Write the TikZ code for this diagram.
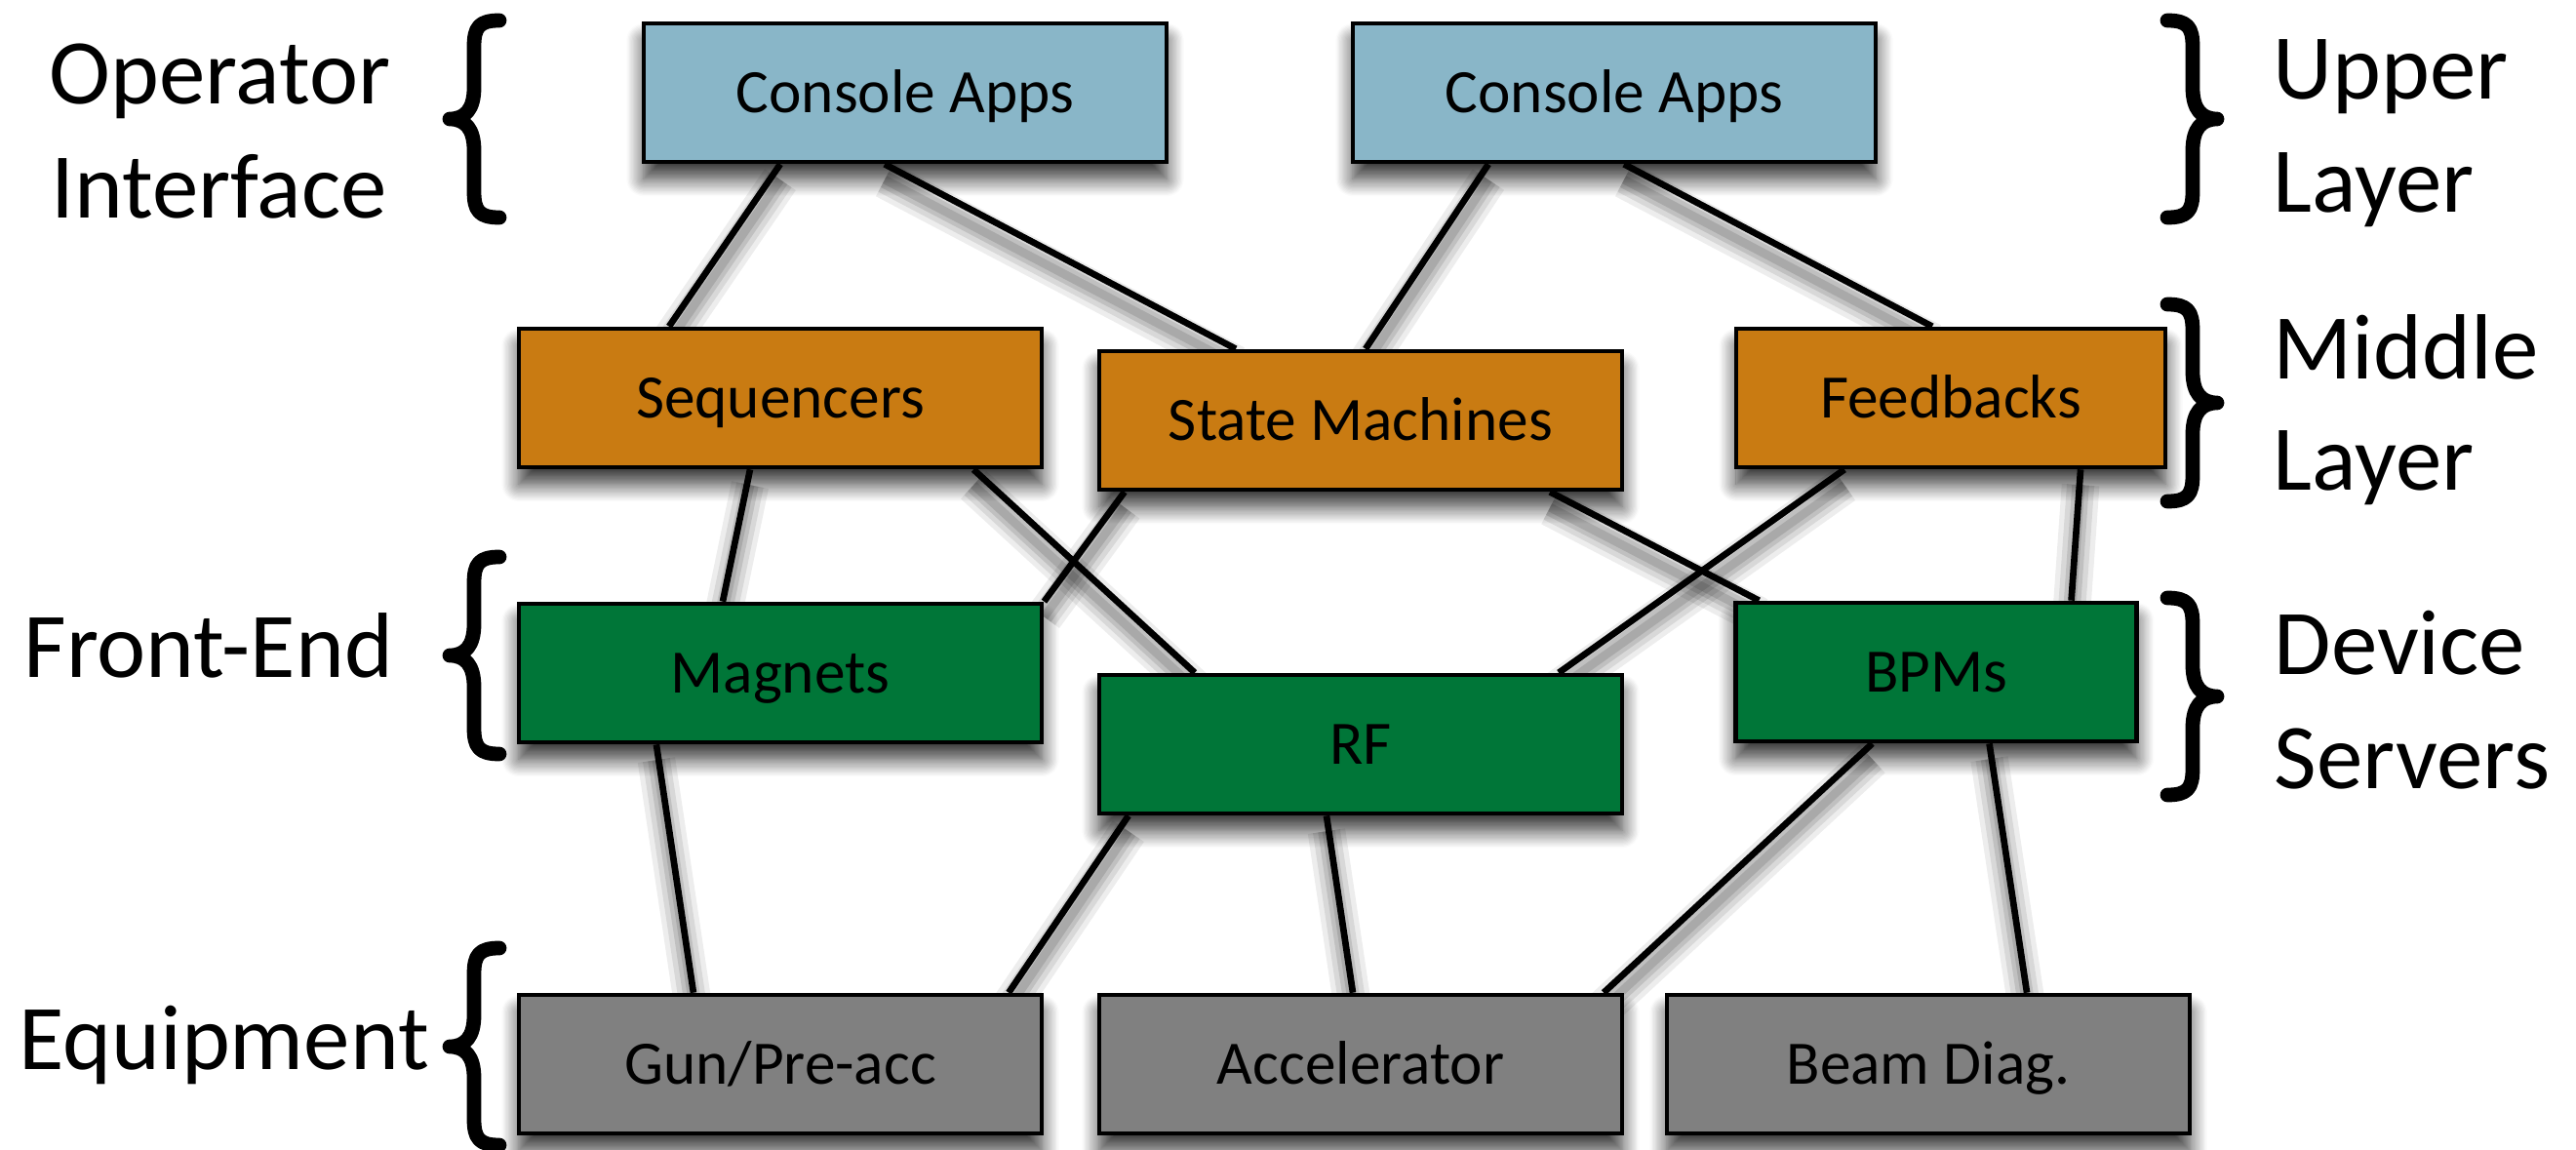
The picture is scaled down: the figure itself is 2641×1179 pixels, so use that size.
\documentclass[tikz,border=0pt]{standalone}
\usepackage{fontspec}
\setmainfont{Carlito}
\usetikzlibrary{shadows.blur}
\definecolor{consoleblue}{RGB}{137,182,200}
\definecolor{midorange}{RGB}{201,123,18}
\definecolor{devgreen}{RGB}{0,118,56}
\definecolor{equipgrey}{RGB}{128,128,128}
\pgfdeclarelayer{background}
\pgfsetlayers{background,main}
% a connector: soft shadow underneath, black line on top
\newcommand\wirelink[2]{%
  \begin{pgfonlayer}{background}%
    \begin{scope}[transform canvas={yshift=-4.5pt}]
      \draw[wireshade] (#1) -- (#2);
    \end{scope}%
  \end{pgfonlayer}%
  \draw[wire] (#1) -- (#2);}
\tikzset{
  pics/curly/.style={code={
    \draw[bracepen] (51,-101) .. controls (30,-101) and (25,-94) .. (25,-74)
      -- (25,-32) .. controls (25,-10) and (16,0) .. (0,0)
      .. controls (16,0) and (25,10) .. (25,32)
      -- (25,74) .. controls (25,94) and (30,101) .. (51,101);
  }},
}
\begin{document}
\begin{tikzpicture}[x=0.01cm,y=-0.01cm,
  layerbox/.style={draw=black, line width=1.3pt, minimum width=5.36cm,
    minimum height=1.42cm, inner sep=0pt,
    font=\fontsize{18}{21.6}\selectfont, text height=11.6pt, text depth=0pt,
    blur shadow={shadow xshift=0pt, shadow yshift=-5pt,
      shadow blur radius=5pt, shadow opacity=80, shadow blur steps=14}},
  uibox/.style={layerbox, fill=consoleblue},
  midbox/.style={layerbox, fill=midorange},
  devbox/.style={layerbox, fill=devgreen},
  eqbox/.style={layerbox, fill=equipgrey},
  sidelabel/.style={anchor=base west, inner sep=0pt,
    font=\fontsize{27}{32}\selectfont},
  wire/.style={draw=black, line width=1.9pt},
  wireshade/.style={draw=black, draw opacity=0.12, line width=2.5pt,
    preaction={draw=black, draw opacity=0.07, line width=11pt},
    preaction={draw=black, draw opacity=0.09, line width=8pt},
    preaction={draw=black, draw opacity=0.11, line width=5pt}},
  bracepen/.style={draw=black, line width=4.2pt, line cap=round, line join=round},
]
\useasboundingbox (0,0) rectangle (2641,1179);

% upper layer
\node[uibox] (ca1) at (928,95) {Console Apps};
\node[uibox] (ca2) at (1655,95) {Console Apps};
% middle layer
\node[midbox] (seq) at (800,408) {Sequencers};
\node[midbox] (sm) at (1395,431) {State Machines};
\node[midbox, minimum width=4.40cm] (fb) at (2000,408) {Feedbacks};
% device servers
\node[devbox] (mag) at (800,690) {Magnets};
\node[devbox] (rf) at (1395,763) {RF};
\node[devbox, minimum width=4.11cm] (bpm) at (1985,689) {BPMs};
% equipment
\node[eqbox] (gun) at (800,1091) {Gun/Pre-acc};
\node[eqbox] (acc) at (1395,1091) {Accelerator};
\node[eqbox] (bd) at (1977,1091) {Beam Diag.};

% connectors
\wirelink{[xshift=-1.28cm]ca1.south}{[xshift=-1.14cm]seq.north}
\wirelink{[xshift=-0.21cm]ca1.south}{[xshift=-1.28cm]sm.north}
\wirelink{[xshift=-1.29cm]ca2.south}{[xshift=0.05cm]sm.north}
\wirelink{[xshift=0.10cm]ca2.south}{[xshift=-0.19cm]fb.north}
\wirelink{[xshift=-0.31cm]seq.south}{[xshift=-0.59cm]mag.north}
\wirelink{[xshift=1.98cm]seq.south}{[xshift=-1.70cm]rf.north}
\wirelink{[xshift=-2.42cm]sm.south}{mag.north east}
\wirelink{[xshift=1.94cm]sm.south}{[xshift=-1.815cm]bpm.north}
\wirelink{[xshift=-1.09cm]fb.south}{[xshift=2.03cm]rf.north}
\wirelink{[xshift=1.33cm]fb.south}{[xshift=1.385cm]bpm.north}
\wirelink{[xshift=-1.27cm]mag.south}{[xshift=-0.89cm]gun.north}
\wirelink{[xshift=-2.38cm]rf.south}{[xshift=2.34cm]gun.north}
\wirelink{[xshift=-0.35cm]rf.south}{[xshift=-0.08cm]acc.north}
\wirelink{[xshift=-0.655cm]bpm.south}{[xshift=2.49cm]acc.north}
\wirelink{[xshift=0.545cm]bpm.south}{[xshift=1.01cm]bd.north}

% braces
\pic at (461,122) {curly};
\pic at (461,672) {curly};
\pic at (461,1073) {curly};
\pic[xscale=-1] at (2273,122) {curly};
\pic[xscale=-1] at (2273,413) {curly};
\pic[xscale=-1] at (2273,714) {curly};

% side labels
\node[sidelabel] (opA) at (50,107) {Operator};
\node[sidelabel] (opB) at (52,224) {Interface};
\node[sidelabel] (fe) at (24,694) {Front-End};
\node[sidelabel] (eq) at (19,1096) {Equipment};
\node[sidelabel] (upA) at (2330,102) {Upper};
\node[sidelabel] (upB) at (2330,218) {Layer};
\node[sidelabel] (miA) at (2330,389) {Middle};
\node[sidelabel] (miB) at (2330,502) {Layer};
\node[sidelabel] (dsA) at (2331,691) {Device};
\node[sidelabel] (dsB) at (2331,808) {Servers};
\end{tikzpicture}
\end{document}
